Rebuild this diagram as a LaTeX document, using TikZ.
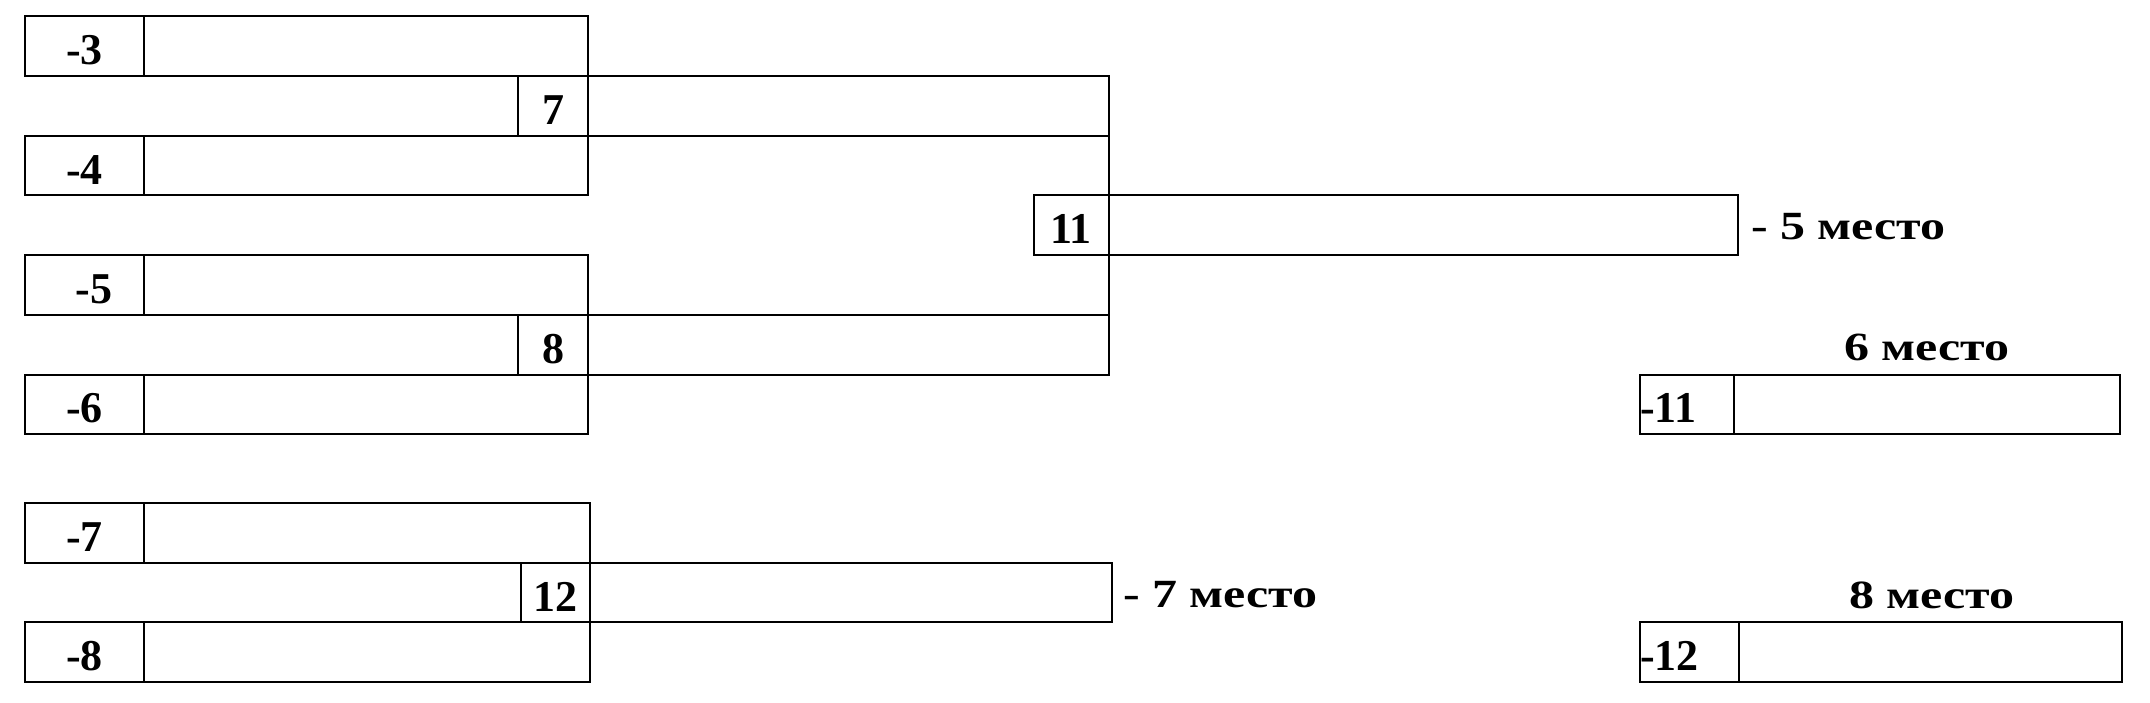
\documentclass[tikz,border=0pt]{standalone}
\usepackage{fontspec}
\usepackage{graphicx}
\setmainfont{Liberation Serif}
\newcommand{\wideplace}[1]{\scalebox{1.25}[1]{#1}}
\begin{document}
\begin{tikzpicture}[x=1pt,y=-1pt,
  cell/.style={draw, line width=2pt, inner sep=0pt, outer sep=0pt, anchor=north west,
    minimum height=59.7pt, font=\fontsize{44}{50}\selectfont\bfseries,
    text height=37pt, text depth=0pt},
  wd/.style={minimum width=#1pt},
  lefttext/.style={text width=#1pt, align=left},
  conn/.style={line width=2pt},
  place/.style={inner sep=0pt, font=\fontsize{40}{48}\selectfont\bfseries}
]
\useasboundingbox (0,0) rectangle (2150,703);
% bracket 1
\node[cell, wd=118.4] (a3) at (25.4,16.3) {-3};
\node[cell, wd=444.2] (b3) at (143.8,16.3) {};
\node[cell, wd=70] (n7) at (518,76) {7};
\node[cell, wd=520.5] (c7) at (588,76) {};
\node[cell, wd=118.4] (a4) at (25.4,135.7) {-4};
\node[cell, wd=444.2] (b4) at (143.8,135.7) {};
\node[cell, wd=75] (n11) at (1033.5,195.4) {11};
\node[cell, wd=629.3] (c11) at (1108.5,195.4) {};
\node[cell, wd=118.4] (a5) at (25.4,255.1) {\hspace*{19pt}-5};
\node[cell, wd=444.2] (b5) at (143.8,255.1) {};
\node[cell, wd=70] (n8) at (518,314.8) {8};
\node[cell, wd=520.5] (c8) at (588,314.8) {};
\node[cell, wd=118.4] (a6) at (25.4,374.5) {-6};
\node[cell, wd=444.2] (b6) at (143.8,374.5) {};
\draw[conn] (c7.north east) -- (c8.south east);
% bracket 3
\node[cell, wd=118.4] (a7) at (25.4,503) {-7};
\node[cell, wd=445.9] (b7) at (143.8,503) {};
\node[cell, wd=69.2] (n12) at (520.5,562.7) {12};
\node[cell, wd=522.3] (c12) at (589.7,562.7) {};
\node[cell, wd=118.4] (a8) at (25.4,622.4) {-8};
\node[cell, wd=445.9] (b8) at (143.8,622.4) {};
% places 6 and 8
\node[cell, wd=94, lefttext=94] (m11) at (1640,374.5) {-11};
\node[cell, wd=386] (e11) at (1734,374.5) {};
\node[cell, wd=99, lefttext=99] (m12) at (1640,622.4) {-12};
\node[cell, wd=383] (e12) at (1739,622.4) {};
% texts
\node[place, anchor=base west] (t5) at (1751,240) {\wideplace{- 5 место}};
\node[place, anchor=base] (t6) at (1927,360) {\wideplace{6 место}};
\node[place, anchor=base west] (t7) at (1123,607) {\wideplace{- 7 место}};
\node[place, anchor=base] (t8) at (1932,608) {\wideplace{8 место}};
\end{tikzpicture}
\end{document}
